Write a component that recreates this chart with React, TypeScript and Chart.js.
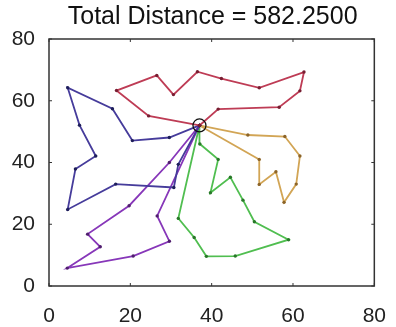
import React, { useEffect, useRef } from "react";
import { Chart, registerables } from "chart.js";

Chart.register(...registerables);

const TITLE = "Total Distance = 582.2500";
const DEPOT = { x: 37, y: 52 };
const AXIS_TICKS = [0, 20, 40, 60, 80];

const redX = [24.5, 16.6, 26.5, 30.6, 36.5, 42.4, 51.7, 62.7, 61.7, 56.6, 41.6];
const redY = [55.1, 63.3, 68.2, 62.0, 69.4, 67.2, 64.2, 69.3, 63.2, 57.9, 57.3];

const blueX = [29.6, 20.5, 15.6, 4.6, 7.5, 11.5, 6.5, 4.6, 16.4, 30.7, 31.8];
const blueY = [48.1, 47.1, 57.4, 64.2, 52.1, 42.1, 37.9, 24.8, 33.0, 31.9, 39.4];

const purpleX = [29.6, 19.7, 9.5, 12.6, 4.5, 20.7, 29.6, 26.6];
const purpleY = [40.0, 26.0, 16.8, 12.7, 5.8, 9.7, 14.5, 22.7];

const greenX = [31.8, 35.7, 38.7, 45.8, 58.9, 50.5, 47.7, 44.6, 39.7, 41.6, 37.1];
const greenY = [21.9, 15.7, 9.6, 9.7, 15.0, 20.8, 27.8, 35.2, 30.2, 41.0, 46.0];

const orangeX = [48.9, 58.0, 61.7, 60.8, 57.8, 55.8, 51.7, 51.7];
const orangeY = [48.9, 48.4, 42.1, 33.0, 27.1, 37.0, 32.9, 41.0];

const ROUTE_COLORS = [
  "rgb(190,60,85)",
  "rgb(70,60,155)",
  "rgb(135,55,185)",
  "rgb(80,190,80)",
  "rgb(210,165,85)",
];
const POINT_COLORS = [
  "rgb(120,30,50)",
  "rgb(30,30,90)",
  "rgb(80,30,110)",
  "rgb(40,120,40)",
  "rgb(140,100,40)",
];

const FONT = "'Liberation Sans', Arial, sans-serif";

function route(xs: number[], ys: number[]) {
  const pts = xs.map((x, i) => ({ x, y: ys[i] }));
  return [DEPOT, ...pts, DEPOT];
}

export default function App() {
  const ref = useRef<HTMLCanvasElement | null>(null);
  useEffect(() => {
    document.body.style.margin = "0";
    const canvas = ref.current!;
    const routes = [
      route(redX, redY),
      route(blueX, blueY),
      route(purpleX, purpleY),
      route(greenX, greenY),
      route(orangeX, orangeY),
    ];
    const boxPlugin = {
      id: "box",
      afterDraw(chart: any) {
        const { ctx, chartArea } = chart;
        const { left, right, top, bottom } = chartArea;
        ctx.save();
        ctx.strokeStyle = "#333";
        ctx.lineWidth = 1.5;
        ctx.strokeRect(left, top, right - left, bottom - top);
        ctx.lineWidth = 1;
        const xs = chart.scales.x;
        const ys = chart.scales.y;
        AXIS_TICKS.forEach((t) => {
          const px = xs.getPixelForValue(t);
          ctx.beginPath();
          ctx.moveTo(px, bottom);
          ctx.lineTo(px, bottom - 3);
          ctx.moveTo(px, top);
          ctx.lineTo(px, top + 3);
          ctx.stroke();
          const py = ys.getPixelForValue(t);
          ctx.beginPath();
          ctx.moveTo(left, py);
          ctx.lineTo(left + 3, py);
          ctx.moveTo(right, py);
          ctx.lineTo(right - 3, py);
          ctx.stroke();
        });
        const dx = xs.getPixelForValue(DEPOT.x);
        const dy = ys.getPixelForValue(DEPOT.y);
        ctx.strokeStyle = "#111";
        ctx.lineWidth = 1.3;
        ctx.beginPath();
        ctx.arc(dx, dy, 6.5, 0, Math.PI * 2);
        ctx.stroke();
        ctx.fillStyle = "#111";
        ctx.font = "25px " + FONT;
        ctx.textAlign = "center";
        ctx.textBaseline = "middle";
        ctx.fillText(TITLE, (left + right) / 2 + 1, 17);
        ctx.restore();
      },
    };
    const chart = new Chart(canvas, {
      type: "scatter",
      data: {
        datasets: routes.map((data, i) => ({
          data,
          showLine: true,
          borderColor: ROUTE_COLORS[i],
          borderWidth: 1.8,
          pointRadius: 1.7,
          pointBackgroundColor: POINT_COLORS[i],
          pointBorderWidth: 0,
        })),
      },
      options: {
        animation: false,
        responsive: false,
        devicePixelRatio: 1,
        layout: { padding: { top: 39, right: 18, left: 0, bottom: 0 } },
        plugins: { legend: { display: false }, tooltip: { enabled: false } },
        scales: {
          x: {
            type: "linear",
            min: 0,
            max: 80,
            afterFit(s: any) {
              s.height = 41;
            },
            afterBuildTicks(s: any) {
              s.ticks = AXIS_TICKS.map((v) => ({ value: v }));
            },
            grid: { display: false },
            border: { display: false },
            ticks: {
              color: "#222",
              padding: 10,
              maxRotation: 0,
              font: { size: 21, family: FONT },
            },
          },
          y: {
            type: "linear",
            min: 0,
            max: 80,
            afterFit(s: any) {
              s.width = 49;
            },
            afterBuildTicks(s: any) {
              s.ticks = AXIS_TICKS.map((v) => ({ value: v }));
            },
            grid: { display: false },
            border: { display: false },
            ticks: {
              color: "#222",
              padding: 6,
              font: { size: 21, family: FONT },
            },
          },
        },
      },
      plugins: [boxPlugin],
    });
    return () => chart.destroy();
  }, []);
  return <canvas ref={ref} width={396} height={327} style={{ display: "block" }} />;
}
